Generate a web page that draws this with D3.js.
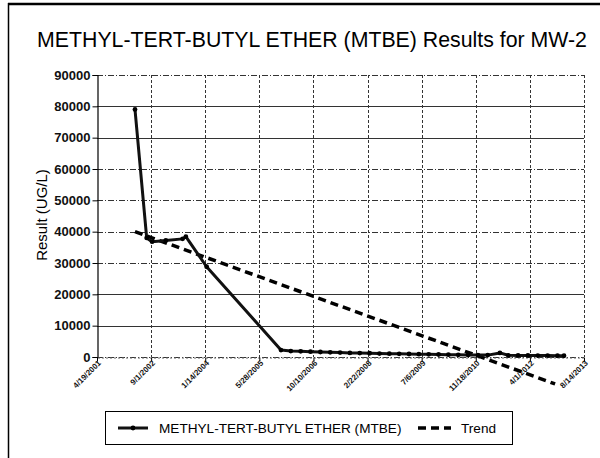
<!DOCTYPE html>
<html><head><meta charset="utf-8">
<script src="https://cdn.jsdelivr.net/npm/d3@7"></script>
<style>
html,body{margin:0;padding:0;background:#fff;}
svg{display:block;font-family:"Liberation Sans",Arial,sans-serif;}
</style></head>
<body>
<svg id="c" width="600" height="458"></svg>
<script>
const chartTitle = "METHYL-TERT-BUTYL ETHER (MTBE) Results for MW-2";
const yTitle = "Result (UG/L)";
const tickLabels = ["4/19/2001","9/1/2002","1/14/2004","5/28/2005","10/10/2006","2/22/2008","7/6/2009","11/18/2010","4/1/2012","8/14/2013"];
const yTicks = [0,10000,20000,30000,40000,50000,60000,70000,80000,90000];
const seriesNames = ["METHYL-TERT-BUTYL ETHER (MTBE)","Trend"];
const mtbeDates = ["4/5/2002","7/22/2002","9/10/2002","1/15/2003","6/19/2003","7/19/2003","1/27/2004","12/14/2005","3/15/2006","6/14/2006","9/13/2006","12/13/2006","3/14/2007","6/13/2007","9/12/2007","12/12/2007","3/12/2008","6/11/2008","9/10/2008","12/10/2008","3/11/2009","6/10/2009","9/9/2009","12/9/2009","3/10/2010","6/9/2010","9/8/2010","12/8/2010","3/9/2011","6/29/2011","9/14/2011","12/14/2011","3/14/2012","6/13/2012","9/12/2012","12/12/2012","2/10/2013"];
const mtbeValues = [79000,38000,36800,37200,37700,38400,28800,2200,1900,1800,1700,1600,1500,1400,1300,1250,1200,1100,1050,1000,950,900,850,800,750,700,650,600,600,1300,550,500,500,450,450,400,400];
const trendDates = ["4/5/2002","11/20/2012"];
const trendValues = [40000,-8600];

const parse = d3.timeParse("%m/%d/%Y");
const svg = d3.select("#c");

// outer frame
svg.append("line").attr("x1",8).attr("x2",600).attr("y1",4).attr("y2",4).attr("stroke","#000").attr("stroke-width",2.5);
svg.append("line").attr("x1",8.5).attr("x2",8.5).attr("y1",3).attr("y2",458).attr("stroke","#000").attr("stroke-width",1.5);

const L=97, R=584, T=75, B=357;
const tickDates = tickLabels.map(parse);
const x = d3.scaleTime().domain([tickDates[0], tickDates[tickDates.length-1]]).range([L,R]);
const y = d3.scaleLinear().domain([0,90000]).range([B,T]);

// title
svg.append("text").attr("x",312).attr("y",47).attr("text-anchor","middle")
  .attr("font-size",21.3).attr("fill","#000").text(chartTitle);

// gridlines
const g = svg.append("g");
g.selectAll(".hg").data(yTicks).join("line")
  .attr("x1",L).attr("x2",R).attr("y1",d=>Math.round(y(d))+0.5).attr("y2",d=>Math.round(y(d))+0.5)
  .attr("stroke","#333").attr("stroke-width",1)
  .attr("stroke-dasharray",(d,i)=> (d===20000||d===10000||d===70000||d===80000)?null:"6,2,1,2");
g.selectAll(".vg").data(tickDates.slice(1)).join("line")
  .attr("x1",d=>Math.round(x(d))+0.5).attr("x2",d=>Math.round(x(d))+0.5).attr("y1",T).attr("y2",B)
  .attr("stroke","#333").attr("stroke-width",1).attr("stroke-dasharray","3,2");

// axes
const yAxis = d3.axisLeft(y).tickValues(yTicks).tickSize(5).tickFormat(d3.format("d"));
const ya = svg.append("g").attr("transform",`translate(${L+0.5},0)`).call(yAxis);
ya.select(".domain").attr("stroke","#000").attr("stroke-width",1.2);
ya.selectAll(".tick line").attr("stroke","#000");
ya.selectAll(".tick text").attr("font-size",13).attr("font-weight","bold").attr("fill","#111")
  .attr("font-family","'Liberation Sans',Arial,sans-serif").attr("x",-7);

const xAxis = d3.axisBottom(x).tickValues(tickDates).tickSize(4).tickFormat((d,i)=>tickLabels[i]);
const xa = svg.append("g").attr("transform",`translate(0,${B+0.5})`).call(xAxis);
xa.select(".domain").attr("stroke","#666").attr("stroke-width",1).attr("stroke-dasharray","2,2");
xa.selectAll(".tick line").attr("stroke","#000");
xa.selectAll(".tick text").attr("font-size",8).attr("font-weight","bold").attr("fill","#111")
  .attr("font-family","'Liberation Sans',Arial,sans-serif")
  .attr("text-anchor","end").attr("dy",null).attr("y",0)
  .attr("transform","translate(4,6) rotate(-45)");

// y title
svg.append("text").attr("transform","translate(47,215) rotate(-90)").attr("text-anchor","middle")
  .attr("font-size",15).attr("fill","#000").text(yTitle);

// series
const mData = mtbeDates.map((d,i)=>({d:parse(d),v:mtbeValues[i]}));
const tData = trendDates.map((d,i)=>({d:parse(d),v:trendValues[i]}));
const line = d3.line().x(d=>x(d.d)).y(d=>y(d.v));
svg.append("path").datum(tData).attr("d",line).attr("fill","none").attr("stroke","#000")
  .attr("stroke-width",3.5).attr("stroke-dasharray","8,5");
svg.append("path").datum(mData).attr("d",line).attr("fill","none").attr("stroke","#111")
  .attr("stroke-width",3).attr("stroke-linejoin","round");
svg.selectAll(".mk").data(mData).join("circle").attr("cx",d=>x(d.d)).attr("cy",d=>y(d.v))
  .attr("r",2.4).attr("fill","#000");

// legend
const lg = svg.append("g");
lg.append("rect").attr("x",105.5).attr("y",411.5).attr("width",407).attr("height",33)
  .attr("fill","none").attr("stroke","#000").attr("stroke-width",1);
lg.append("line").attr("x1",118).attr("x2",148).attr("y1",428).attr("y2",428).attr("stroke","#111").attr("stroke-width",3);
lg.append("circle").attr("cx",133).attr("cy",428).attr("r",2.4).attr("fill","#000");
lg.append("text").attr("x",159).attr("y",433).attr("font-size",13.6).attr("fill","#000").text(seriesNames[0]);
lg.append("line").attr("x1",418).attr("x2",451).attr("y1",428).attr("y2",428).attr("stroke","#000")
  .attr("stroke-width",3.5).attr("stroke-dasharray","8,5");
lg.append("text").attr("x",461).attr("y",433).attr("font-size",13.6).attr("fill","#000").text(seriesNames[1]);
</script>
</body></html>
